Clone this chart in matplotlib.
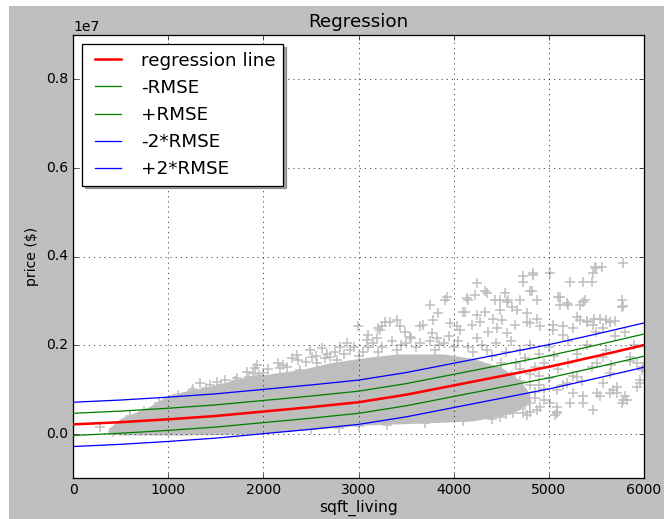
import numpy as np
import matplotlib
matplotlib.use('Agg')
import matplotlib.pyplot as plt
from matplotlib.patches import Rectangle

plt.style.use('classic')

# regression curve (sqft, price in $M)
line_sqft = [0, 500, 1000, 1500, 2000, 2500, 3000, 3500, 4000, 4500, 5000, 5500, 6000]
line_price_m = [0.21, 0.26, 0.325, 0.40, 0.50, 0.60, 0.71, 0.88, 1.09, 1.30, 1.51, 1.75, 2.00]
rmse_m = 0.25

# solid part of the point cloud (outline)
core_sqft = [370, 420, 500, 630, 800, 1000, 1160, 1330, 1500, 1680, 1860, 2000,
             2400, 2700, 3000, 3400, 3900, 4200, 4500, 4700, 4800]
core_hi_m = [0.12, 0.20, 0.35, 0.46, 0.61, 0.87, 0.95, 1.02, 1.10, 1.21, 1.30, 1.33,
             1.45, 1.60, 1.70, 1.80, 1.80, 1.70, 1.50, 1.20, 0.90]
core_lo_m = [0.05, 0.0, -0.03, -0.03, -0.03, -0.03, -0.03, -0.02, -0.02, -0.01, 0.0, 0.01,
             0.08, 0.13, 0.19, 0.22, 0.26, 0.29, 0.40, 0.55, 0.75]

# individual houses visible outside the solid part
pts = [
    (5775, 3.85), (5500, 3.74), (5485, 3.77), (5467, 3.62), (5362, 3.43), (5222, 3.43),
    (5012, 3.62), (4837, 3.62), (4732, 3.43), (4802, 3.21), (4872, 3.02), (5117, 3.09),
    (5117, 2.91), (5204, 2.91), (5362, 2.98), (5776, 2.88), (5330, 2.57), (5400, 2.55),
    (5470, 2.58), (5600, 2.56), (5640, 2.53), (5700, 2.55), (4242, 3.40), (4329, 3.21),
    (4224, 3.13), (4137, 3.06), (3926, 3.09), (3909, 3.02), (3751, 2.91), (4539, 3.17),
    (4487, 3.02), (4557, 2.98), (4609, 2.87), (4101, 2.75), (4031, 2.42), (3786, 2.57),
    (3646, 2.42), (3401, 2.57), (3331, 2.53), (2998, 2.42), (3244, 2.42), (3226, 2.34),
    (4697, 3.02), (4662, 2.79), (4767, 2.72), (4872, 2.60), (4907, 2.42), (4802, 2.49),
    (5047, 2.45), (5152, 2.42), (5152, 2.23), (4732, 3.55), (4837, 3.58), (4820, 3.21),
    (5450, 3.43), (5555, 3.77), (5765, 3.02), (5765, 2.87), (5100, 3.09), (5187, 2.94),
    (5327, 2.91), (5380, 3.02), (5292, 2.64), (5397, 2.53), (5537, 2.60), (5642, 2.53),
    (5047, 2.34), (5257, 2.38), (5467, 2.45), (5572, 2.38), (4154, 3.02), (4347, 3.17),
    (4434, 3.02), (4574, 3.02), (4119, 2.75), (4242, 2.68), (4329, 2.75), (4416, 2.60),
    (4487, 2.79), (4504, 2.57), (3961, 2.49), (4066, 2.34), (4189, 2.45), (4277, 2.53),
    (4364, 2.30), (4452, 2.38), (4557, 2.27), (4644, 2.45), (4767, 2.53), (3838, 2.72),
    (3278, 2.53), (3436, 2.42), (3208, 2.38), (3488, 2.30), (3541, 2.19), (3681, 2.45),
    (3769, 2.27), (3821, 2.15), (3103, 2.23), (3085, 2.12), (3190, 2.15), (2876, 2.04),
    (2805, 1.96), (2910, 1.89), (2613, 1.93), (2665, 1.81), (2490, 1.89), (2508, 1.74),
    (2350, 1.78), (2367, 1.66), (2210, 1.55), (2175, 1.48), (1912, 1.48), (1895, 1.36),
    (2000, 1.36), (2700, 1.74), (2770, 1.66), (2560, 1.59), (2385, 1.44),
    (1930, 1.55), (1825, 1.40), (1720, 1.25), (1597, 1.21), (1510, 1.17), (1440, 1.10),
    (1335, 1.14), (1264, 1.02), (284, 0.16), (423, 0.045),
    (5713, 1.06), (5782, 0.76), (5467, 0.54), (5082, 0.50), (5713, 0.91), (5957, 1.14),
    (5975, 1.44), (5642, 1.36), (5572, 1.14), (5502, 0.91), (5362, 0.84), (5222, 0.69),
    (5292, 1.29), (5852, 1.74), (5922, 1.59), (5502, 1.59), (5572, 1.74), (5817, 0.76),
    (5082, 0.61), (5082, 0.46), (4872, 0.54), (5362, 0.69), (5537, 0.84), (5677, 0.99),
    (4627, 0.46), (4767, 0.42), (4487, 0.38), (5957, 1.21), (5922, 1.06), (5800, 0.84),
    (5765, 0.69), (5642, 0.91), (5257, 0.91), (5187, 1.14), (5082, 0.99), (5064, 0.42),
    (5012, 0.69), (4907, 0.61), (4802, 0.50), (4732, 0.46), (5992, 1.51),
    (4600, 2.1), (4700, 1.9), (4800, 2.0), (4900, 1.8), (5000, 1.95), (4650, 1.6),
    (4750, 1.7), (4850, 1.5), (4950, 1.6), (5050, 1.75), (4600, 1.3), (4700, 1.2),
    (4800, 1.35), (4900, 1.1), (5000, 1.25), (4650, 0.9), (4750, 0.8), (4850, 0.95),
    (4950, 0.75), (5100, 1.45), (5200, 1.6), (5250, 1.3), (5150, 1.1), (5300, 1.8),
    (5400, 2.0), (5200, 2.1), (5450, 1.5), (5350, 1.2), (5600, 1.9), (5700, 2.2),
    (5800, 2.3), (5900, 2.0), (5650, 1.55), (5850, 1.65), (5500, 2.3),
    (3000, 1.75), (3200, 1.85), (3400, 1.9), (3600, 1.95), (3800, 1.9), (4000, 1.95),
    (4200, 1.85), (4400, 1.75), (4500, 1.6), (3100, 1.95), (3500, 2.05), (3900, 2.05),
    (4300, 2.0),
    (2050, 1.45), (2150, 1.6), (2250, 1.5), (2300, 1.7), (2450, 1.62), (2550, 1.75),
    (2650, 1.7), (2750, 1.85), (2850, 1.8), (2950, 1.95), (3050, 1.85), (3150, 2.05),
    (3250, 1.95), (3350, 2.1), (3450, 2.0), (3550, 2.15), (3650, 2.05), (3750, 2.1),
    (3850, 2.0), (3950, 2.2), (4050, 2.1), (4150, 1.95), (4250, 2.15), (4350, 1.9),
    (4450, 2.05), (4550, 1.85),
    (4700, 1.45), (4800, 1.1), (4850, 0.8), (4900, 1.3), (4950, 1.0), (4650, 0.6),
    (4750, 0.65), (4600, 0.55), (4550, 1.0), (4700, 1.0), (4800, 0.7),
    (2500, 0.1), (2800, 0.13), (3000, 0.18), (3300, 0.2), (3700, 0.24), (4100, 0.28),
    (4400, 0.33), (4550, 0.45),
    (600, 0.40), (750, 0.52), (900, 0.70), (1100, 0.88), (1250, 0.97), (1400, 1.03),
    (1550, 1.10), (1700, 1.18), (1850, 1.28), (1950, 1.33),
]
pts_sqft = [p[0] for p in pts]
pts_price_m = [p[1] for p in pts]

M = 1e6
grey = '#bebebe'
dpi = 92

fig = plt.figure(figsize=(664 / dpi, 519 / dpi), dpi=dpi, facecolor='white')
# the saved image had a thin white margin at the top and left
fig.add_artist(Rectangle((9 / 664, 0), 1, 1 - 6 / 519, transform=fig.transFigure,
                         facecolor='0.75', edgecolor='none', zorder=-10))
ax = fig.add_axes([73 / 664, 41 / 519, 571 / 664, 443 / 519])

ax.fill_between(core_sqft, np.array(core_lo_m) * M, np.array(core_hi_m) * M,
                color=grey, lw=0, zorder=1)
ax.plot(pts_sqft, np.array(pts_price_m) * M, '+', color=grey, ms=8.5, mew=1.2, zorder=2)

y = np.array(line_price_m) * M
r = rmse_m * M
ax.plot(line_sqft, y, 'r', lw=2, label='regression line', zorder=4)
ax.plot(line_sqft, y - r, 'g', label='-RMSE', zorder=3)
ax.plot(line_sqft, y + r, 'g', label='+RMSE', zorder=3)
ax.plot(line_sqft, y - 2 * r, 'b', label='-2*RMSE', zorder=3)
ax.plot(line_sqft, y + 2 * r, 'b', label='+2*RMSE', zorder=3)

ax.set_xlim(0, 6000)
ax.set_ylim(-1e6, 9e6)
ax.set_xticks([0, 1000, 2000, 3000, 4000, 5000, 6000])
ax.set_yticks([0, 2e6, 4e6, 6e6, 8e6])
ax.ticklabel_format(axis='y', style='sci', scilimits=(7, 7))
ax.tick_params(labelsize=11)
ax.yaxis.get_offset_text().set_fontsize(11)
ax.grid(True)
ax.set_title('Regression', pad=6)
ax.set_xlabel('sqft_living', fontsize=12, labelpad=2)
ax.set_ylabel('price ($)', fontsize=11)
ax.legend(loc='upper left', shadow=True)

fig.savefig('out.png', dpi=dpi, facecolor=fig.get_facecolor())
